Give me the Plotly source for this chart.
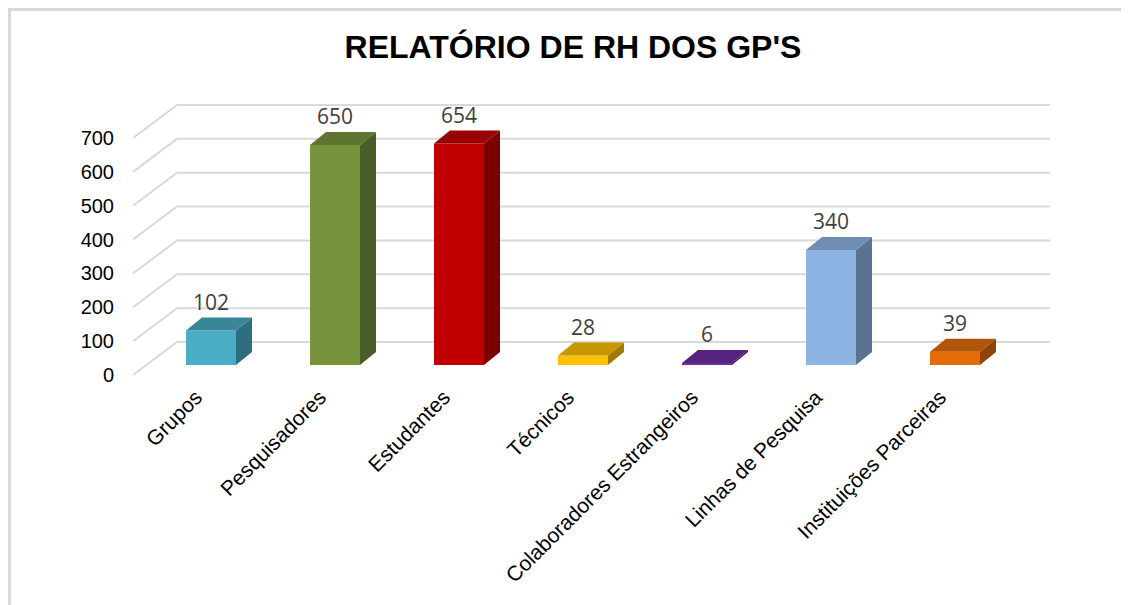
import plotly.graph_objects as go

# ---------------- data ----------------
categories = ["Grupos", "Pesquisadores", "Estudantes", "Técnicos",
              "Colaboradores Estrangeiros", "Linhas de Pesquisa", "Instituições Parceiras"]
values = [102, 650, 654, 28, 6, 340, 39]
front_colors = ["#4BACC6", "#77933C", "#C00000", "#FFC000", "#7030A0", "#8DB4E2", "#E46C0A"]
top_colors = ["#3A8699", "#5E7430", "#990000", "#C79600", "#55237F", "#6F8DB2", "#B35508"]
side_colors = ["#2F6E7F", "#4B5D27", "#7D0000", "#A27A00", "#441A66", "#5A7393", "#8F4406"]
y_ticks = [0, 100, 200, 300, 400, 500, 600, 700]
title_text = "RELATÓRIO DE RH DOS GP'S"

# ---------------- geometry (screen pixels) ----------------
W, H = 1129, 605
BODY = 8  # default page margin around the plot div
FIG_W, FIG_H = W - BODY, H - BODY
PLOT_L, PLOT_R, PLOT_T, PLOT_B = 133, 1050, 90, 380
PX_PER_UNIT = 237 / 700
CAT0_PX, CAT_STEP = 211, 124
LABEL_SHIFT_PX = 15
BAR_W = 50 / CAT_STEP
DEPTH_DX = 16 / CAT_STEP
DEPTH_DY = 13 / PX_PER_UNIT
FLOOR_DY = 33 / PX_PER_UNIT
LABEL_GAP = 13 / PX_PER_UNIT
GRID_BACK_L, GRID_BACK_R = 177, 1050


def yrange(zero_px):
    return [-(PLOT_B - zero_px) / PX_PER_UNIT, (zero_px - PLOT_T) / PX_PER_UNIT]


def xrange(c0):
    return [(PLOT_L - c0) / CAT_STEP, (PLOT_R - c0) / CAT_STEP]


def x_of_px(px):
    return (px - CAT0_PX) / CAT_STEP


def paper_x(px):
    return (px - PLOT_L) / (PLOT_R - PLOT_L)


def paper_y(py):
    return (PLOT_B - py) / (PLOT_B - PLOT_T)


FONT = "Liberation Sans, Arial, sans-serif"

fig = go.Figure()
idx = list(range(len(categories)))

# front faces
fig.add_trace(go.Bar(x=idx, y=values, width=BAR_W, marker=dict(color=front_colors, line=dict(width=0)),
                     xaxis="x", yaxis="y2", hoverinfo="skip"))

# side + top faces
for i, v in enumerate(values):
    xr = i + BAR_W / 2
    xl = i - BAR_W / 2
    fig.add_trace(go.Scatter(
        x=[xr, xr + DEPTH_DX, xr + DEPTH_DX, xr, xr],
        y=[0, DEPTH_DY, v + DEPTH_DY, v, 0],
        fill="toself", fillcolor=side_colors[i], mode="lines", line=dict(width=0, color=side_colors[i]),
        xaxis="x", yaxis="y2", hoverinfo="skip"))
    fig.add_trace(go.Scatter(
        x=[xl, xr, xr + DEPTH_DX, xl + DEPTH_DX, xl],
        y=[v, v, v + DEPTH_DY, v + DEPTH_DY, v],
        fill="toself", fillcolor=top_colors[i], mode="lines", line=dict(width=0, color=top_colors[i]),
        xaxis="x", yaxis="y2", hoverinfo="skip"))

# data labels
fig.add_trace(go.Scatter(
    x=idx, y=[v + DEPTH_DY + LABEL_GAP for v in values],
    text=[str(v) for v in values], mode="text", textposition="middle center",
    textfont=dict(family="Open Sans, sans-serif", size=21, color="#404040"),
    xaxis="x", yaxis="y2", hoverinfo="skip"))

# dummy trace for label axis
fig.add_trace(go.Scatter(x=[], y=[], xaxis="x2", yaxis="y", hoverinfo="skip"))

shapes = []
# gridlines: slanted floor segment + back wall line
for t in y_ticks:
    shapes.append(dict(
        type="path", xref="x", yref="y", layer="below",
        path=f"M {x_of_px(PLOT_L)} {t} L {x_of_px(GRID_BACK_L)} {t + FLOOR_DY} L {x_of_px(GRID_BACK_R)} {t + FLOOR_DY}",
        line=dict(color="#D9D9D9", width=2)))

# frame
shapes.append(dict(type="path", xref="paper", yref="paper", layer="below",
                   path=f"M {paper_x(9.5)} {paper_y(615)} L {paper_x(9.5)} {paper_y(9.5)} L {paper_x(1140)} {paper_y(9.5)}",
                   line=dict(color="#D9D9D9", width=3)))

fig.update_layout(
    width=FIG_W, height=FIG_H,
    margin=dict(l=PLOT_L - BODY, r=FIG_W + BODY - PLOT_R, t=PLOT_T - BODY, b=FIG_H + BODY - PLOT_B, pad=0),
    paper_bgcolor="white", plot_bgcolor="rgba(0,0,0,0)",
    showlegend=False, barmode="overlay",
    title=dict(text=f"<b>{title_text}</b>", x=(573 - BODY) / FIG_W, xref="container", xanchor="center",
               y=1 - (47 - BODY) / FIG_H, yref="container", yanchor="middle",
               font=dict(family=FONT, size=32, color="black")),
    xaxis=dict(domain=[0, 1], range=xrange(CAT0_PX), anchor="y2", showgrid=False, zeroline=False,
               showticklabels=False, showline=False, ticks=""),
    xaxis2=dict(domain=[0, 1], range=xrange(CAT0_PX - LABEL_SHIFT_PX), overlaying="x", anchor="y",
                tickmode="array", tickvals=idx, ticktext=categories, tickangle=-45,
                showgrid=False, zeroline=False, showline=False, ticks="",
                tickfont=dict(family=FONT, size=21, color="black")),
    yaxis=dict(domain=[0, 1], range=yrange(375), anchor="x2", tickmode="array", tickvals=y_ticks,
               showgrid=False, zeroline=False, showline=False, ticks="", ticklabelstandoff=18,
               tickfont=dict(family=FONT, size=20, color="black")),
    yaxis2=dict(domain=[0, 1], range=yrange(365), overlaying="y", anchor="x", visible=False),
    shapes=shapes,
)

fig.write_html("out.html")
